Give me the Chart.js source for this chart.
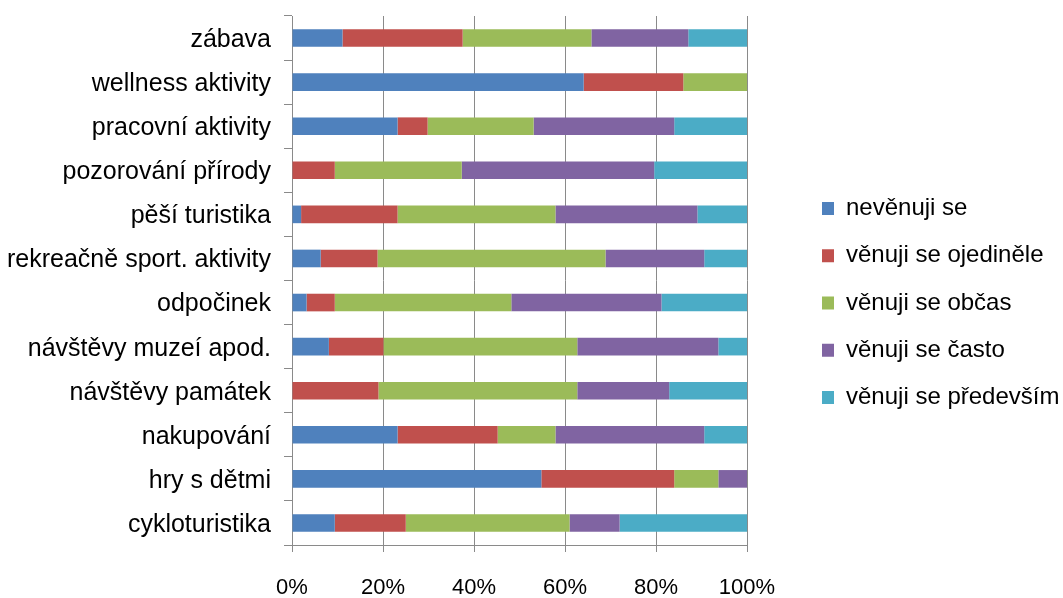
<!DOCTYPE html>
<html>
<head>
<meta charset="utf-8">
<script src="https://cdn.jsdelivr.net/npm/chart.js@4/dist/chart.umd.min.js"></script>
<style>
  html, body { margin: 0; padding: 0; background: #fff; }
</style>
</head>
<body>
<canvas id="myChart" width="1063" height="598"></canvas>
<script>
// categories, top to bottom
const categories = [
    'zábava',
    'wellness aktivity',
    'pracovní aktivity',
    'pozorování přírody',
    'pěší turistika',
    'rekreačně sport. aktivity',
    'odpočinek',
    'návštěvy muzeí apod.',
    'návštěvy památek',
    'nakupování',
    'hry s dětmi',
    'cykloturistika'
];

const seriesNames = ['nevěnuji se', 'věnuji se ojediněle', 'věnuji se občas', 'věnuji se často', 'věnuji se především'];

// percent of answers, same order as categories
const nevenuji   = [11.1, 64.1, 23.2,  0.0,  2.0,  6.3,  3.2,  8.1,  0.0, 23.2, 54.8,  9.4];
const ojedinele  = [26.4, 21.9,  6.6,  9.4, 21.2, 12.5,  6.2, 12.0, 19.0, 22.0, 29.2, 15.6];
const obcas      = [28.3, 14.0, 23.3, 27.9, 34.7, 50.1, 38.8, 42.6, 43.7, 12.7,  9.7, 36.0];
const casto      = [21.3,  0.0, 30.9, 42.3, 31.2, 21.7, 33.0, 31.0, 20.2, 32.7,  6.3, 11.0];
const predevsim  = [12.9,  0.0, 16.0, 20.4, 10.9,  9.4, 18.8,  6.3, 17.1,  9.4,  0.0, 28.0];

const tickLabels = ['0%', '20%', '40%', '60%', '80%', '100%'];

const colors = ['#4F81BD', '#C0504D', '#9BBB59', '#8064A2', '#4BACC6'];
const gridColor = '#8a8a8a';

const PLOT_LEFT = 292;
const PLOT_RIGHT = 747;
const PLOT_TOP = 16;
const PLOT_BOTTOM = 545;
const LEGEND_X = 822;
const LEGEND_DY = -4;

// keep the legend far right without pulling the plot area with it
const legendPlace = {
    id: 'legendPlace',
    afterInit(chart) {
        const legend = chart.legend;
        const fit = legend.fit;
        legend.fit = function () {
            fit.call(this);
            this.width = chart.width - PLOT_RIGHT;
        };
        const draw = legend.draw;
        legend.draw = function () {
            const left = this.left, top = this.top, bottom = this.bottom;
            this.left = LEGEND_X - this.options.labels.padding;
            this.top = top + LEGEND_DY;
            this.bottom = bottom + LEGEND_DY;
            draw.call(this);
            this.left = left;
            this.top = top;
            this.bottom = bottom;
        };
    }
};

const allSeries = [nevenuji, ojedinele, obcas, casto, predevsim];

var data = {
    labels: categories,
    datasets: allSeries.map((values, i) => ({
        label: seriesNames[i],
        data: values,
        backgroundColor: colors[i],
        borderWidth: 0,
        barPercentage: 0.4,
        categoryPercentage: 1.0
    }))
};

var ctx = document.getElementById('myChart');
var myChart = new Chart(ctx, {
    type: 'bar',
    data: data,
    plugins: [legendPlace],
    options: {
        indexAxis: 'y',
        responsive: false,
        animation: false,
        devicePixelRatio: 1,
        layout: {
            padding: { top: PLOT_TOP, left: 0, right: 0, bottom: 0 }
        },
        scales: {
            x: {
                stacked: true,
                min: 0,
                max: 100,
                ticks: {
                    stepSize: 20,
                    padding: 23,
                    color: '#000',
                    font: { family: 'Liberation Sans', size: 22 },
                    callback: (value, index) => tickLabels[index]
                },
                grid: {
                    color: gridColor,
                    lineWidth: 1,
                    tickLength: 7
                },
                border: { color: gridColor },
                afterFit(scale) {
                    scale.height = 598 - PLOT_BOTTOM;
                }
            },
            y: {
                stacked: true,
                ticks: {
                    padding: 13,
                    labelOffset: 2,
                    color: '#000',
                    font: { family: 'Liberation Sans', size: 25 }
                },
                grid: {
                    drawOnChartArea: false,
                    offset: true,
                    color: gridColor,
                    tickLength: 8
                },
                border: { color: gridColor },
                afterFit(scale) {
                    scale.width = PLOT_LEFT;
                    scale.paddingTop = 0;
                    scale.paddingBottom = 0;
                }
            }
        },
        plugins: {
            legend: {
                position: 'right',
                labels: {
                    boxWidth: 12,
                    boxHeight: 13,
                    padding: 23.3,
                    color: '#000',
                    font: { family: 'Liberation Sans', size: 24 }
                }
            },
            tooltip: { enabled: false }
        }
    }
});
</script>
</body>
</html>
